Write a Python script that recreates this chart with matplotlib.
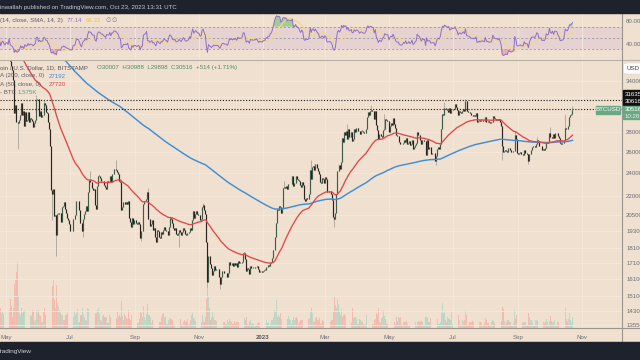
import numpy as np
import pandas as pd
import matplotlib
matplotlib.use("Agg")
import matplotlib.pyplot as plt
import matplotlib.dates as mdates
from matplotlib.patches import Rectangle, FancyBboxPatch
from matplotlib.ticker import NullLocator

# ---------------- data (daily closes, USD) ----------------
close_2021_12 = [57200, 56500, 53600, 49200, 49400, 50600, 50600, 50500, 47600, 47100,
                 49400, 50100, 46700, 48400, 48900, 47600, 46200, 46800, 46700, 46900,
                 49000, 48600, 50800, 50400, 50800, 50700, 50600, 47500, 46500, 47100, 46200]
close_2022_01 = [47700, 47300, 46400, 45800, 43400, 43100, 41500, 41700, 41900, 41800,
                 42700, 43900, 42600, 43100, 43100, 43100, 42200, 42400, 41700, 40700,
                 36400, 35100, 36300, 36700, 36900, 36800, 37200, 37700, 38200, 37900, 38500]
close_2022_02 = [38700, 36900, 37300, 41600, 41400, 42400, 43800, 44100, 44400, 43600,
                 42400, 42200, 42100, 42600, 44600, 43900, 40600, 40000, 40100, 38400,
                 37000, 38300, 37300, 38300, 39200, 39100, 37700, 43200]
close_2022_03 = [44400, 44000, 42500, 39100, 39400, 38400, 37900, 38700, 41900, 39400,
                 38800, 38800, 37800, 39700, 39300, 41100, 40900, 41800, 42200, 41300,
                 41000, 42400, 42900, 44000, 44300, 44500, 46800, 47100, 47500, 47100, 45500]
close_2022_04 = [46300, 45800, 46400, 46600, 45500, 43200, 43400, 42300, 42800, 42200,
                 39500, 40100, 41100, 39900, 40500, 40400, 39700, 40800, 41500, 41400,
                 40500, 39700, 39500, 39500, 40400, 38100, 39200, 39700, 38600, 37700]
close_2022_05 = [38500, 38500, 37700, 39700, 36600, 36000, 35500, 34100, 30100, 31000,
                 29100, 29000, 29300, 29900, 31300, 29900, 30400, 28700, 30300, 29200,
                 29400, 30300, 29100, 29600, 29500, 29200, 28600, 29000, 29400, 31700, 31800]
close_2022_06 = [29800, 30400, 29700, 29900, 29900, 31300, 31100, 30200, 30100, 29100,
                 28400, 26600, 22500, 22200, 22600, 20400, 20500, 19000, 20600, 20600,
                 20700, 20000, 21100, 21200, 21500, 21000, 20700, 20300, 20100, 19800]
close_2022_07 = [19300, 19300, 19300, 20200, 20200, 20500, 21600, 21600, 21600, 20900,
                 19900, 19300, 20200, 20600, 20800, 21200, 20800, 22400, 23400, 23200,
                 23200, 22700, 22500, 22600, 21300, 21000, 22900, 23800, 23800, 23600, 23300]
close_2022_08 = [23300, 23000, 22800, 22600, 23300, 23200, 23200, 23800, 23200, 23900,
                 23900, 24400, 24400, 24300, 24100, 23900, 23300, 23200, 20900, 21100,
                 21500, 21400, 21500, 21400, 21600, 20300, 20000, 19600, 20300, 19800, 20100]
close_2022_09 = [20100, 19900, 19800, 19950, 19800, 18800, 19300, 19300, 21400, 21600,
                 21800, 22400, 20200, 20200, 19700, 19800, 20100, 19400, 19500, 18900,
                 18500, 19400, 19300, 18900, 18800, 19200, 19100, 19400, 19600, 19400]
close_2022_10 = [19300, 19000, 19600, 20300, 20200, 19900, 19500, 19400, 19500, 19100,
                 19050, 19150, 19400, 19200, 19050, 19250, 19550, 19350, 19100, 19050,
                 19150, 19200, 19550, 19350, 20100, 20800, 20300, 20600, 20800, 20600, 20500]
close_2022_11 = [20500, 20150, 20200, 21150, 21300, 20900, 20600, 18550, 15900, 17600,
                 17050, 16800, 16350, 16600, 16900, 16650, 16700, 16700, 16700, 16250,
                 15800, 16200, 16600, 16600, 16500, 16450, 16450, 16200, 16450, 17150]
close_2022_12 = [16980, 17100, 16900, 17100, 16970, 17090, 16840, 17230, 17130, 17130,
                 17090, 17200, 17780, 17800, 17360, 16630, 16780, 16740, 16440, 16900,
                 16820, 16820, 16780, 16840, 16830, 16920, 16700, 16540, 16630, 16600, 16540]
close_2023_01 = [16620, 16670, 16680, 16850, 16830, 16950, 16940, 17120, 17190, 17440,
                 17940, 18850, 19930, 20950, 20870, 21180, 21130, 20680, 21070, 22670,
                 22780, 22710, 22920, 22630, 23060, 23010, 23080, 23030, 23770, 22840, 23130]
close_2023_02 = [23730, 23490, 23430, 23330, 22930, 22760, 23260, 22960, 21800, 21630,
                 21860, 21790, 21780, 22200, 24330, 23520, 24570, 24630, 24280, 24830,
                 24440, 24190, 23940, 23190, 23160, 23560, 23490, 23140]
close_2023_03 = [23650, 23470, 22360, 22350, 22430, 22410, 22200, 21710, 20360, 20190,
                 20630, 22160, 24200, 24750, 24380, 25050, 27420, 26970, 28040, 27770,
                 28170, 27300, 28330, 27490, 27490, 28000, 27140, 27270, 28350, 28030, 28480]
close_2023_04 = [28450, 28200, 27800, 28170, 28170, 28040, 27920, 27950, 28330, 29650,
                 30240, 29900, 30390, 30490, 30320, 30320, 29450, 30390, 28820, 28250,
                 27270, 27820, 27590, 27510, 28310, 28420, 29480, 29340, 29250, 29240]
close_2023_05 = [28090, 28680, 29030, 28850, 29540, 28900, 28430, 27690, 27630, 27630,
                 26990, 26810, 26790, 26930, 27190, 27030, 27410, 26830, 26890, 27120,
                 26750, 26850, 27230, 26340, 26480, 26720, 26870, 28080, 27750, 27700, 27220]
close_2023_06 = [26820, 27250, 27080, 27120, 25760, 27240, 26350, 26500, 26480, 25850,
                 25940, 25900, 25920, 25130, 25580, 26330, 26510, 26340, 26850, 28330,
                 30000, 29890, 30690, 30550, 30480, 30270, 30690, 30080, 30450, 30470]
close_2023_07 = [30590, 30620, 31160, 30770, 30510, 29900, 30350, 30290, 30170, 30410,
                 30620, 30390, 31470, 30330, 30300, 30250, 30140, 29860, 29920, 29800,
                 29910, 29800, 30080, 29180, 29230, 29350, 29210, 29320, 29360, 29280, 29230]
close_2023_08 = [29700, 29180, 29190, 29110, 29060, 29090, 29180, 29770, 29580, 29430,
                 29400, 29420, 29300, 29430, 29170, 28700, 26620, 26050, 26100, 26190,
                 26120, 26050, 26430, 26170, 26050, 26010, 26090, 26110, 27720, 27300, 25930]
close_2023_09 = [25800, 25870, 25970, 25810, 25790, 25750, 26240, 25900, 25890, 25830,
                 25160, 25840, 26230, 26530, 26600, 26570, 26530, 26760, 27210, 27130,
                 26570, 26580, 26580, 26250, 26300, 26220, 26370, 27030, 26910, 26970]
close_2023_10 = [27990, 27500, 27430, 27800, 27410, 27950, 27970, 27940, 27590, 27390,
                 26870, 26760, 26860, 26860, 27160, 28520, 28410, 28330, 28720, 29680,
                 29920, 30007, 30516]

# daily volume, thousand BTC
vol_2022_04 = [2.6, 2.9, 2.2, 2.3, 2.0, 1.3]
vol_2022_05 = [1.6, 2.1, 1.7, 2.6, 4.1, 3.2, 1.6, 2.9, 6.3, 6.8, 8.0, 9.4, 4.6, 2.2, 1.9, 2.8,
               2.2, 2.4, 2.6, 2.3, 1.0, 1.2, 2.4, 1.9, 1.7, 2.5, 2.4, 1.0, 1.1, 2.6, 2.2]
vol_2022_06 = [2.6, 1.8, 1.7, 0.8, 0.9, 2.3, 2.9, 1.9, 1.5, 2.1, 1.8, 3.4, 7.6, 6.0, 6.9, 4.0,
               2.8, 6.2, 3.6, 3.0, 2.6, 2.2, 1.9, 1.9, 1.2, 1.1, 1.9, 1.8, 2.1, 2.6]
vol_2022_07 = [2.2, 0.9, 0.8, 1.5, 2.4, 1.9, 2.1, 2.7, 0.9, 0.9, 1.8, 1.9, 2.9, 2.0, 1.5, 1.1,
               1.0, 2.9, 2.7, 2.8, 2.3, 2.1, 1.2, 0.9, 2.1, 2.2, 2.6, 2.8, 2.0, 1.1, 1.0]
vol_2022_08 = [1.7, 1.8, 1.6, 1.5, 1.6, 0.7, 0.7, 1.8, 1.6, 2.2, 2.1, 1.5, 0.9, 1.3, 2.3, 1.5,
               1.9, 1.5, 3.8, 1.7, 1.1, 2.0, 1.7, 1.4, 1.3, 2.5, 1.3, 1.1, 1.8, 2.0, 1.8]
vol_2022_09 = [1.7, 1.6, 0.7, 0.7, 1.3, 2.4, 2.2, 1.6, 3.2, 1.5, 1.2, 2.0, 3.4, 1.9, 1.8, 1.6,
               0.7, 1.1, 2.2, 1.8, 2.8, 2.0, 1.7, 0.8, 0.8, 1.6, 2.0, 2.1, 1.6, 1.5]
vol_2022_10 = [0.5, 0.6, 1.2, 1.4, 1.3, 1.3, 1.1, 0.5, 0.4, 0.9, 1.1, 0.8, 2.2, 1.3, 0.5, 0.4,
               0.9, 1.1, 0.9, 1.0, 1.3, 0.5, 0.6, 1.1, 1.9, 2.1, 1.4, 1.3, 1.0, 0.6, 1.1]
vol_2022_11 = [1.1, 1.4, 0.9, 1.8, 1.0, 0.8, 1.5, 4.2, 5.9, 4.4, 2.9, 1.2, 1.4, 2.4, 1.5, 1.2,
               1.1, 1.0, 0.5, 0.7, 1.9, 1.6, 1.3, 0.9, 0.8, 0.5, 0.5, 1.1, 0.9, 1.3]
vol_2022_12 = [1.0, 0.9, 0.5, 0.5, 1.0, 0.7, 0.9, 0.8, 0.8, 0.3, 0.4, 0.9, 1.5, 1.4, 1.1, 1.6,
               0.5, 0.4, 1.0, 1.2, 0.6, 0.7, 0.6, 0.2, 0.3, 0.4, 0.7, 0.9, 0.7, 0.8, 0.4]
vol_2023_01 = [0.3, 0.5, 0.8, 1.1, 0.7, 0.9, 0.3, 0.5, 1.2, 1.1, 1.6, 2.6, 2.4, 4.0, 1.6, 1.9,
               1.5, 2.2, 1.3, 2.1, 2.0, 1.2, 1.4, 1.3, 1.7, 1.3, 1.2, 0.6, 1.1, 1.6, 1.2]
vol_2023_02 = [1.4, 1.6, 1.3, 0.6, 0.8, 1.2, 1.2, 1.1, 2.1, 1.6, 0.6, 0.7, 1.3, 1.4, 2.4, 2.8,
               2.1, 0.8, 1.0, 1.4, 1.5, 1.2, 1.2, 1.4, 0.6, 0.7, 1.1, 1.0]
vol_2023_03 = [1.3, 1.1, 2.2, 0.6, 0.5, 0.8, 1.2, 1.1, 2.4, 4.4, 3.3, 2.9, 4.2, 3.4, 2.4, 1.8,
               2.7, 1.5, 1.9, 2.0, 1.7, 2.0, 2.0, 1.5, 0.8, 0.9, 2.9, 1.4, 1.6, 1.5, 1.3]
vol_2023_04 = [0.5, 0.6, 1.3, 1.1, 1.0, 0.8, 0.6, 0.4, 0.6, 1.8, 1.9, 1.4, 1.2, 1.6, 0.6, 0.6,
               1.2, 1.3, 2.2, 1.9, 2.9, 1.0, 0.7, 1.4, 1.5, 2.6, 1.7, 1.3, 0.5, 0.6]
vol_2023_05 = [1.6, 1.3, 1.2, 0.9, 1.3, 0.9, 0.6, 1.6, 1.0, 1.5, 1.4, 1.5, 0.5, 0.4, 0.8, 0.8,
               0.9, 1.0, 0.7, 0.3, 0.4, 0.8, 0.9, 1.2, 1.0, 0.9, 0.4, 0.8, 1.0, 0.8, 1.0]
vol_2023_06 = [1.0, 0.9, 0.4, 0.4, 1.5, 1.7, 1.4, 0.8, 0.8, 1.4, 0.6, 0.9, 0.9, 1.2, 1.5, 1.3,
               0.6, 0.5, 0.8, 2.2, 3.6, 2.2, 2.4, 1.2, 0.9, 1.5, 1.4, 1.3, 1.1, 2.4]
vol_2023_07 = [0.5, 0.6, 1.4, 0.9, 0.9, 1.8, 1.1, 0.4, 0.4, 1.1, 1.0, 1.2, 2.6, 1.9, 0.4, 0.4,
               0.9, 0.9, 0.8, 1.0, 0.8, 0.4, 0.4, 1.2, 0.7, 0.9, 0.8, 0.7, 0.3, 0.4, 0.7]
vol_2023_08 = [1.4, 1.1, 0.7, 0.7, 0.3, 0.3, 0.8, 1.2, 1.0, 0.7, 0.6, 0.2, 0.3, 0.7, 0.8, 1.0,
               3.0, 2.7, 1.0, 0.6, 0.9, 1.2, 1.1, 0.9, 0.9, 0.3, 0.3, 0.7, 2.6, 1.3, 1.8]
vol_2023_09 = [1.5, 0.4, 0.4, 0.6, 0.7, 0.8, 0.9, 0.9, 0.3, 0.4, 2.1, 1.6, 1.1, 1.2, 0.9, 0.3,
               0.3, 1.1, 1.1, 1.0, 1.0, 0.6, 0.2, 0.3, 0.8, 0.7, 1.0, 1.3, 0.9, 0.4]
vol_2023_10 = [1.0, 1.7, 1.0, 0.8, 0.9, 1.1, 0.3, 0.4, 0.9, 0.8, 1.2, 0.9, 0.7, 0.3, 0.5, 2.9,
               1.3, 1.0, 1.3, 2.1, 1.1, 0.8, 1.575]

# notable wick extremes
high_marks = {"2022-05-04": 40000, "2022-05-30": 32200, "2022-06-06": 31700, "2022-07-20": 24250,
              "2022-08-14": 25200, "2022-09-13": 22700, "2022-11-05": 21450, "2023-01-21": 23350,
              "2023-02-16": 25250, "2023-03-22": 28900, "2023-04-14": 31000, "2023-04-26": 30000,
              "2023-06-23": 31400, "2023-07-13": 31800, "2023-08-29": 28150, "2023-09-19": 27480,
              "2023-10-02": 28580, "2023-10-16": 30000, "2023-10-23": 30988}
low_marks = {"2022-05-12": 26300, "2022-06-14": 20100, "2022-06-18": 17600, "2022-07-13": 18900,
             "2022-09-07": 18600, "2022-10-13": 18200, "2022-11-09": 15600, "2022-11-21": 15500,
             "2023-03-10": 19600, "2023-06-15": 24800, "2023-08-17": 25200, "2023-09-11": 24900,
             "2023-10-23": 29898}

ema200_seed = 49000   # 200-EMA level at end of Nov 2021
ema50_seed = 57000    # 50-EMA level at end of Nov 2021

price_ticks = [34000, 32000, 30000, 28000, 26000, 24000, 22000, 20500, 19300, 18100,
               17100, 16100, 15100, 14300, 13550]
price_tick_labels = ["34000", "", "", "28000", "26000", "24000", "22000", "20500", "19300",
                     "18100", "17100", "16100", "15100", "14300", "13550"]
month_ticks = ["2022-05-01", "2022-07-01", "2022-09-01", "2022-11-01", "2023-01-01",
               "2023-03-01", "2023-05-01", "2023-07-01", "2023-09-01", "2023-11-01"]
month_labels = ["May", "Jul", "Sep", "Nov", "2023", "Mar", "May", "Jul", "Sep", "Nov"]
rsi_ticks = [80, 40]
rsi_tick_labels = ["80.00", "40.00"]

close_parts = [("2021-12-01", close_2021_12), ("2022-01-01", close_2022_01),
               ("2022-02-01", close_2022_02), ("2022-03-01", close_2022_03),
               ("2022-04-01", close_2022_04), ("2022-05-01", close_2022_05),
               ("2022-06-01", close_2022_06), ("2022-07-01", close_2022_07),
               ("2022-08-01", close_2022_08), ("2022-09-01", close_2022_09),
               ("2022-10-01", close_2022_10), ("2022-11-01", close_2022_11),
               ("2022-12-01", close_2022_12), ("2023-01-01", close_2023_01),
               ("2023-02-01", close_2023_02), ("2023-03-01", close_2023_03),
               ("2023-04-01", close_2023_04), ("2023-05-01", close_2023_05),
               ("2023-06-01", close_2023_06), ("2023-07-01", close_2023_07),
               ("2023-08-01", close_2023_08), ("2023-09-01", close_2023_09),
               ("2023-10-01", close_2023_10)]
vol_parts = [("2022-04-25", vol_2022_04), ("2022-05-01", vol_2022_05), ("2022-06-01", vol_2022_06),
             ("2022-07-01", vol_2022_07), ("2022-08-01", vol_2022_08), ("2022-09-01", vol_2022_09),
             ("2022-10-01", vol_2022_10), ("2022-11-01", vol_2022_11), ("2022-12-01", vol_2022_12),
             ("2023-01-01", vol_2023_01), ("2023-02-01", vol_2023_02), ("2023-03-01", vol_2023_03),
             ("2023-04-01", vol_2023_04), ("2023-05-01", vol_2023_05), ("2023-06-01", vol_2023_06),
             ("2023-07-01", vol_2023_07), ("2023-08-01", vol_2023_08), ("2023-09-01", vol_2023_09),
             ("2023-10-01", vol_2023_10)]


def build(parts):
    out = []
    for start, vals in parts:
        idx = pd.date_range(start, periods=len(vals), freq="D")
        out.append(pd.Series(np.asarray(vals, dtype=float), index=idx))
    return pd.concat(out)


close = build(close_parts)
volume = build(vol_parts)
open_ = close.shift(1).fillna(close)
high = pd.Series(np.maximum(open_.values, close.values), index=close.index)
low = pd.Series(np.minimum(open_.values, close.values), index=close.index)
for d, v in high_marks.items():
    high[pd.Timestamp(d)] = max(high[pd.Timestamp(d)], v)
for d, v in low_marks.items():
    low[pd.Timestamp(d)] = min(low[pd.Timestamp(d)], v)


def ema(series, span, seed):
    s = pd.concat([pd.Series([seed], index=[series.index[0] - pd.Timedelta(days=1)]), series])
    return s.ewm(span=span, adjust=False).mean().iloc[1:]


ema200 = ema(close, 200, ema200_seed)
ema50 = ema(close, 50, ema50_seed)

delta = close.diff()
ag = delta.clip(lower=0).ewm(alpha=1 / 14, adjust=False).mean()
al = (-delta).clip(lower=0).ewm(alpha=1 / 14, adjust=False).mean()
rsi = 100 - 100 / (1 + ag / al)
rsi_ma = rsi.rolling(14).mean()

# ---------------- drawing ----------------
W, H = 640, 360
BG = "#f0e0cf"
DARK = "#1e222d"
GRID = "#f5e9dd"
AXTXT = "#6b6e78"
FONT = "Liberation Sans"
FS = 4.4

plt.rcParams["font.family"] = [FONT, "DejaVu Sans"]

fig = plt.figure(figsize=(6.4, 3.6), dpi=100)
fig.patch.set_facecolor(BG)


def fx(px):
    return px / W


def fy(py):
    return 1 - py / H


xd = mdates.date2num(close.index)
xv = mdates.date2num(volume.index)
ref = mdates.date2num(pd.Timestamp("2023-01-01"))
xlim = (ref - 250.7, ref + 342.2)
mt = mdates.date2num(pd.to_datetime(month_ticks))

# RSI pane
ax_rsi = fig.add_axes([0, fy(59), fx(622), 46 / H])
ax_rsi.set_facecolor(BG)
ax_rsi.set_xlim(*xlim)
ax_rsi.set_ylim(12.8, 94.2)
ax_rsi.axhspan(30, 70, color="#c9a9d8", alpha=0.25, lw=0, zorder=0)
for lv in (70, 50, 30):
    ax_rsi.axhline(lv, color="#8a8790", lw=0.5, ls=(0, (3, 3)), zorder=1)
for m in mt:
    ax_rsi.axvline(m, color=GRID, lw=0.6, zorder=0.5)
r = rsi.values
ax_rsi.fill_between(xd, 70, r, where=r > 70, interpolate=True, color="#6fbf73", alpha=0.6, lw=0, zorder=2)
ax_rsi.fill_between(xd, 30, r, where=r < 30, interpolate=True, color="#ef7b78", alpha=0.5, lw=0, zorder=2)
ax_rsi.plot(xd, rsi_ma.values, color="#f3d78a", lw=0.9, zorder=3)
ax_rsi.plot(xd, r, color="#8f6fc6", lw=0.7, zorder=4)
ax_rsi.yaxis.tick_right()
ax_rsi.set_yticks(rsi_ticks)
ax_rsi.set_yticklabels(rsi_tick_labels)
ax_rsi.tick_params(axis="y", length=0, pad=3, labelsize=FS, labelcolor=AXTXT)
ax_rsi.set_xticks([])
for s in ax_rsi.spines.values():
    s.set_visible(False)

# volume pane (under price)
ax_vol = fig.add_axes([0, fy(328), fx(622), 268 / H])
ax_vol.set_facecolor(BG)
ax_vol.set_xlim(*xlim)
ax_vol.set_ylim(0, 38.2)
for m in mt:
    ax_vol.axvline(m, color=GRID, lw=0.6, zorder=0.5)
up_v = (close.reindex(volume.index) >= open_.reindex(volume.index)).values
vcol = np.where(up_v, "#9fd1bd", "#f2a59b")
ax_vol.bar(xv, volume.values, width=0.75, color=vcol, alpha=0.6, lw=0, zorder=2)
ax_vol.set_xticks([])
ax_vol.set_yticks([])
for s in ax_vol.spines.values():
    s.set_visible(False)

# price pane
ax = fig.add_axes([0, fy(328), fx(622), 268 / H])
ax.set_facecolor("none")
ax.set_yscale("log")
ax.set_xlim(*xlim)
ax.set_ylim(13388, 36804)
for p in price_ticks:
    ax.axhline(p, color=GRID, lw=0.6, zorder=0.5)

up = (close >= open_).values
body_lo = np.minimum(open_.values, close.values)
body_hi = np.maximum(open_.values, close.values)
body_hi = np.where(body_hi - body_lo < body_lo * 0.0015, body_lo * 1.0015, body_hi)
ax.vlines(xd, low.values, high.values, color="#8d8d86", lw=0.45, zorder=3)
ax.vlines(xd[up], body_lo[up], body_hi[up], color="#3f5d48", lw=0.85, zorder=4)
ax.vlines(xd[~up], body_lo[~up], body_hi[~up], color="#2b2320", lw=0.85, zorder=4)

ax.plot(xd, ema200.values, color="#3f8ed8", lw=1.05, zorder=5)
ax.plot(xd, ema50.values, color="#e0474c", lw=0.95, zorder=5)

ax.axhline(31635, color="#1a1a1a", lw=0.8, ls=(0, (1, 1.6)), zorder=6)
ax.axhline(30616, color="#1a1a1a", lw=0.8, ls=(0, (1, 1.6)), zorder=6)

ax.yaxis.tick_right()
ax.yaxis.set_minor_locator(NullLocator())
ax.set_yticks(price_ticks)
ax.set_yticklabels(price_tick_labels)
ax.tick_params(axis="y", which="both", length=0, pad=3, labelsize=FS, labelcolor=AXTXT)
ax.set_xticks(mt)
ax.set_xticklabels(month_labels)
ax.tick_params(axis="x", length=0, pad=5, labelsize=FS, labelcolor=AXTXT)
for lab in ax.get_xticklabels():
    if lab.get_text() == "2023":
        lab.set_fontweight("bold")
        lab.set_color("#55585f")
for s in ax.spines.values():
    s.set_visible(False)

# separators
fig.add_artist(plt.Line2D([0, 1], [fy(59.5), fy(59.5)], transform=fig.transFigure, color="#b9b0a6", lw=0.8))
fig.add_artist(plt.Line2D([0, 1], [fy(328), fy(328)], transform=fig.transFigure, color="#9c958e", lw=0.8))
fig.add_artist(plt.Line2D([fx(622), fx(622)], [fy(13), fy(342)], transform=fig.transFigure, color="#9c958e", lw=0.8))

# dark bars
fig.add_artist(Rectangle((0, fy(13)), 1, 13 / H, transform=fig.transFigure, color=DARK, zorder=10))
fig.add_artist(Rectangle((0, 0), 1, 18 / H, transform=fig.transFigure, color=DARK, zorder=10))


def txt(x, y, s, color, size=FS, weight="normal", ha="left", z=12):
    fig.text(fx(x), fy(y), s, color=color, fontsize=size, ha=ha, va="center",
             fontweight=weight, zorder=z)


txt(0, 7, "inwallah published on TradingView.com, Oct 23, 2023 13:31 UTC", "#c8cbd3", 4.4)
txt(-3.5, 351, "TradingView", "#d1d4dc", 4.6)

# RSI legend
txt(-0.5, 20.5, "(14, close, SMA, 14, 2)", "#5c5f68")
txt(67, 20.5, "77.14", "#8f6fc6")
txt(86, 20.5, "66.32", "#e5c35a")
txt(105, 20.5, "\u2205", "#7a7d86")
txt(112, 20.5, "\u2205", "#7a7d86")

# main legend
txt(-0.5, 67.5, "oin / U.S. Dollar, 1D, BITSTAMP", "#55585f")
txt(97, 67.5, "O30007  H30988  L29898  C30516  +514 (+1.71%)", "#4f8a68")
txt(-0.5, 76, "A (200, close, 0)", "#5c5f68")
txt(49, 76, "27192", "#3f8ed8")
txt(-0.5, 84.5, "A (50, close, 0)", "#5c5f68")
txt(49, 84.5, "27720", "#e0474c")
txt(-0.5, 93, "- BTC", "#5c5f68")
txt(18, 93, "1.575K", "#4fa383")

# price label boxes
fig.canvas.draw()
g = H - ax.transData.transform((xlim[0], 30516))[1]
fig.add_artist(Rectangle((fx(622.5), fy(g - 4.2)), fx(18), 15.5 / H, transform=fig.transFigure,
                         color="#111111", zorder=11))
txt(624.5, g - 15.5, "31635", "white")
txt(624.5, g - 8.5, "30616", "white")
fig.add_artist(Rectangle((fx(622.5), fy(g + 9.5)), fx(18), 13.5 / H, transform=fig.transFigure,
                         color="#6aa884", zorder=11))
txt(624.5, g, "30516", "white")
txt(624.5, g + 6.5, "10:28:29", "#e6f2ea")
fig.add_artist(Rectangle((fx(595.5), fy(g + 4)), fx(24.5), 8 / H, transform=fig.transFigure,
                         color="#6aa884", zorder=11))
txt(607.7, g, "BTCUSD", "white", ha="center")

# USD box
fig.add_artist(FancyBboxPatch((fx(623.5), fy(74)), fx(20), 11 / H, transform=fig.transFigure,
                              boxstyle="round,pad=0,rounding_size=0.006", fc="white", ec="#d8d4d0",
                              lw=0.4, zorder=11))
txt(626.5, 68.5, "USD", "#3a3d45")

fig.savefig("out.png", dpi=100, facecolor=BG)
